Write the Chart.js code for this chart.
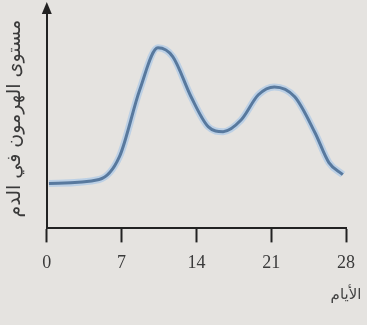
<!DOCTYPE html>
<html>
<head>
<meta charset="utf-8">
<script src="https://cdn.jsdelivr.net/npm/chart.js@4/dist/chart.umd.min.js"></script>
<style>
  html, body { margin: 0; padding: 0; background: #e5e3e0; }
  #wrap { width: 367px; height: 325px; }
</style>
</head>
<body>
<div id="wrap"><canvas id="c"></canvas></div>
<script>
// days of the cycle and hormone level (0-100 scale)
const days  = [0.2, 4.9, 6.8, 8.7, 10.4, 11.8, 13.5, 15.1, 16.5, 18.2, 19.8, 21.3, 23.2, 25.1, 26.4, 27.7];
const level = [20.5, 22.3, 32.7, 63.2, 82.3, 78.2, 60, 46.4, 44.1, 49.5, 60.9, 64.5, 60, 43.6, 30, 24.5];
const xTicks = [0, 7, 14, 21, 28];
const xTitle = 'الأيام';

const points = days.map((d, i) => ({ x: d, y: level[i] }));

// arrow head on the y axis, and the x title centred under the last tick
const extrasPlugin = {
  id: 'extras',
  afterDraw(chart) {
    const ctx = chart.ctx;
    const a = chart.chartArea;
    ctx.save();
    ctx.fillStyle = '#222';
    ctx.beginPath();
    ctx.moveTo(a.left, a.top - 7);
    ctx.lineTo(a.left - 5, a.top + 5);
    ctx.lineTo(a.left + 5, a.top + 5);
    ctx.closePath();
    ctx.fill();

    ctx.fillStyle = '#444';
    ctx.font = '15px "DejaVu Sans"';
    ctx.textAlign = 'center';
    ctx.textBaseline = 'middle';
    ctx.fillText(xTitle, chart.scales.x.getPixelForValue(28), a.bottom + 67);
    ctx.restore();
  }
};

new Chart(document.getElementById('c'), {
  type: 'line',
  data: {
    datasets: [
      {
        data: points,
        borderColor: '#58799e',
        borderWidth: 3,
        pointRadius: 0,
        cubicInterpolationMode: 'monotone',
        fill: false
      },
      {
        data: points,
        borderColor: 'rgba(160,195,232,0.6)',
        borderWidth: 7,
        pointRadius: 0,
        cubicInterpolationMode: 'monotone',
        fill: false
      }
    ]
  },
  options: {
    responsive: true,
    maintainAspectRatio: false,
    animation: false,
    layout: { padding: { left: 4, right: 21, top: 9, bottom: 41 } },
    plugins: { legend: { display: false }, tooltip: { enabled: false } },
    scales: {
      x: {
        type: 'linear',
        min: 0,
        max: 28,
        afterBuildTicks: s => { s.ticks = xTicks.map(v => ({ value: v })); },
        ticks: {
          color: '#3a3a3a',
          font: { family: 'Liberation Serif', size: 18 },
          padding: 10
        },
        grid: { drawOnChartArea: false, tickLength: 14, tickColor: '#222', tickWidth: 2 },
        border: { color: '#222', width: 2 }
      },
      y: {
        min: 0,
        max: 100,
        ticks: { display: false },
        grid: { display: false },
        border: { color: '#222', width: 2 },
        title: {
          display: true,
          text: 'مستوى الهرمون في الدم',
          color: '#3a3a3a',
          font: { family: 'DejaVu Sans', size: 19 },
          padding: { top: 0, bottom: 12 }
        }
      }
    }
  },
  plugins: [extrasPlugin]
});
</script>
</body>
</html>
